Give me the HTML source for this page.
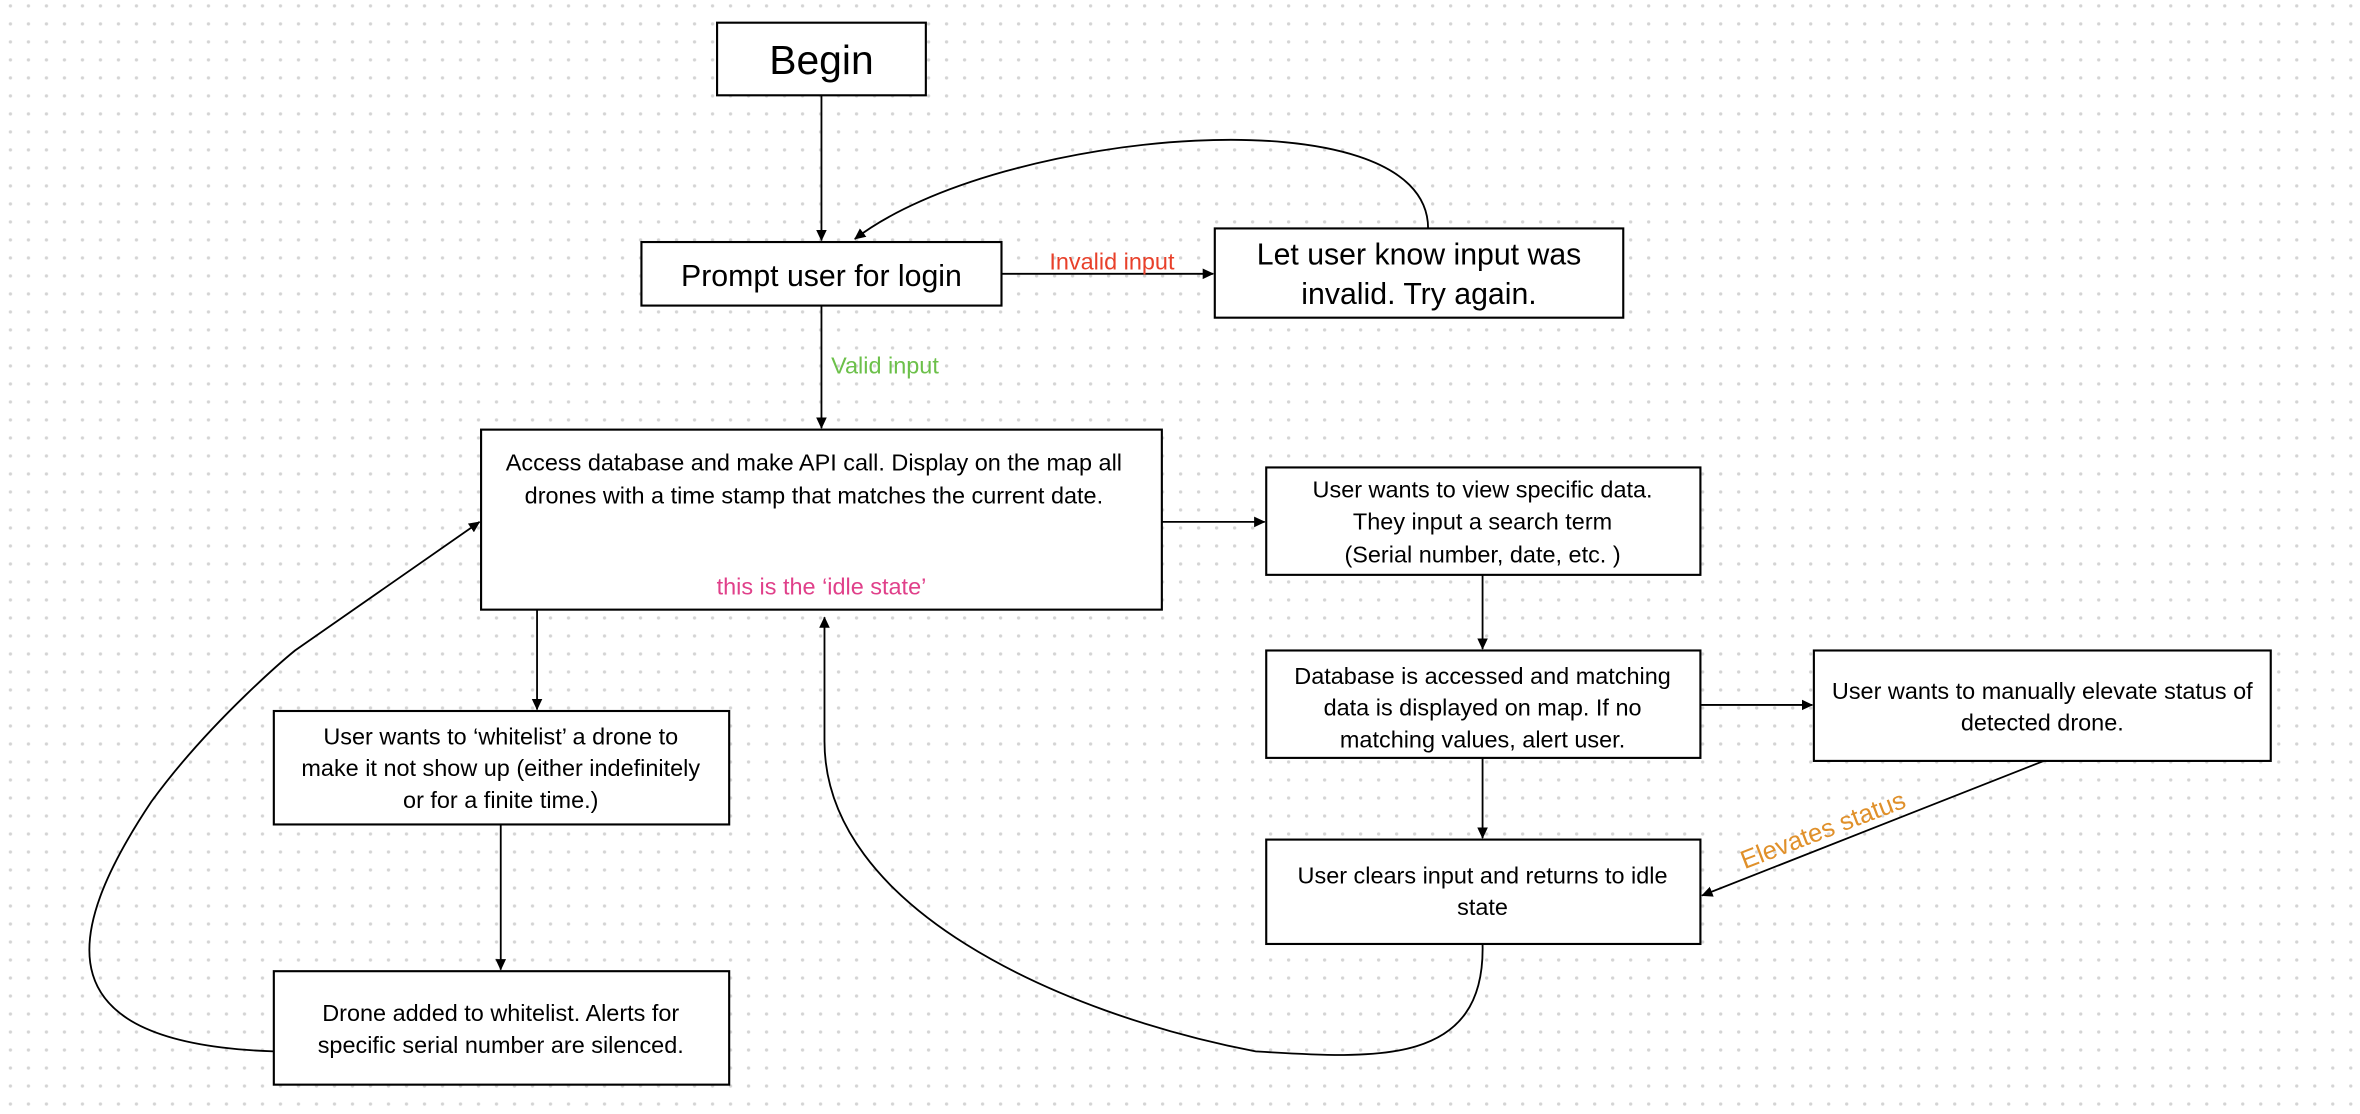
<!DOCTYPE html>
<html><head><meta charset="utf-8"><style>
html,body{margin:0;padding:0;background:#fff;}
svg{display:block}
text{font-family:"Liberation Sans",sans-serif;fill:#000;}
</style></head><body>
<svg width="2360" height="1114" viewBox="0 0 1560 736.4" preserveAspectRatio="none" xmlns="http://www.w3.org/2000/svg">
<defs>
<pattern id="dots" x="1" y="-2" width="11.9" height="11.9" patternUnits="userSpaceOnUse">
<circle cx="5.9" cy="5.9" r="1.1" fill="#d4d4d4"/>
</pattern>
<marker id="ah" markerWidth="8" markerHeight="8" refX="7" refY="4" orient="auto" markerUnits="userSpaceOnUse">
<path d="M0,0.5 L7.5,4 L0,7.5 Z" fill="#000"/>
</marker>
</defs>
<rect width="1560" height="736.4" fill="url(#dots)"/>
<g fill="#fff" stroke="#000" stroke-width="1.4">
<rect x="474" y="15" width="138" height="48"/>
<rect x="424" y="160" width="238" height="42"/>
<rect x="803" y="151" width="270" height="59"/>
<rect x="318" y="284" width="450" height="119"/>
<rect x="837" y="309" width="287" height="71"/>
<rect x="837" y="430" width="287" height="71"/>
<rect x="1199" y="430" width="302" height="73"/>
<rect x="837" y="555" width="287" height="69"/>
<rect x="181" y="470" width="301" height="75"/>
<rect x="181" y="642" width="301" height="75"/>
</g>
<g stroke="#000" stroke-width="1.2" fill="none" marker-end="url(#ah)">
<path d="M543,63 L543,159"/>
<path d="M944,151 C944,60 660,85 565,158"/>
<path d="M662,181 L802,181"/>
<path d="M543,202 L543,283"/>
<path d="M768,345 L836,345"/>
<path d="M980,380 L980,429"/>
<path d="M1124,466 L1198,466"/>
<path d="M980,501 L980,554"/>
<path d="M1351,503 L1125,592"/>
<path d="M355,403 L355,469"/>
<path d="M331,545 L331,641"/>
<path d="M181,695 C30,690 40,620 100,530 C140,475 195,430 195,430 L317,345"/>
<path d="M980,624 C982,705 910,700 830,695 C700,670 545,600 545,490 L545,408"/>
</g>
<g text-anchor="middle">
<text x="543" y="49" font-size="27">Begin</text>
<text x="543" y="189" font-size="20">Prompt user for login</text>
<text x="938" y="175" font-size="20">Let user know input was</text>
<text x="938" y="201" font-size="20">invalid. Try again.</text>
<text x="538" y="311" font-size="15.5">Access database and make API call. Display on the map all</text>
<text x="538" y="333" font-size="15.5">drones with a time stamp that matches the current date.</text>
<text x="543" y="393" font-size="15.5" style="fill:#e0408a">this is the ‘idle state’</text>
<text x="980" y="329" font-size="15.5">User wants to view specific data.</text>
<text x="980" y="350" font-size="15.5">They input a search term</text>
<text x="980" y="372" font-size="15.5">(Serial number, date, etc. )</text>
<text x="980" y="452" font-size="15.5">Database is accessed and matching</text>
<text x="980" y="473" font-size="15.5">data is displayed on map. If no</text>
<text x="980" y="494" font-size="15.5">matching values, alert user.</text>
<text x="1350" y="462" font-size="15.5">User wants to manually elevate status of</text>
<text x="1350" y="483" font-size="15.5">detected drone.</text>
<text x="980" y="584" font-size="15.5">User clears input and returns to idle</text>
<text x="980" y="605" font-size="15.5">state</text>
<text x="331" y="492" font-size="15.5">User wants to ‘whitelist’ a drone to</text>
<text x="331" y="513" font-size="15.5">make it not show up (either indefinitely</text>
<text x="331" y="534" font-size="15.5">or for a finite time.)</text>
<text x="331" y="675" font-size="15.5">Drone added to whitelist. Alerts for</text>
<text x="331" y="696" font-size="15.5">specific serial number are silenced.</text>
<text x="735" y="178" font-size="15.5" style="fill:#e8402a">Invalid input</text>
<text x="585" y="247" font-size="15.5" style="fill:#6cc04a">Valid input</text>
<text x="1207" y="554" font-size="17" style="fill:#e0902a" transform="rotate(-21 1207 554)">Elevates status</text>
</g>
</svg>
</body></html>
